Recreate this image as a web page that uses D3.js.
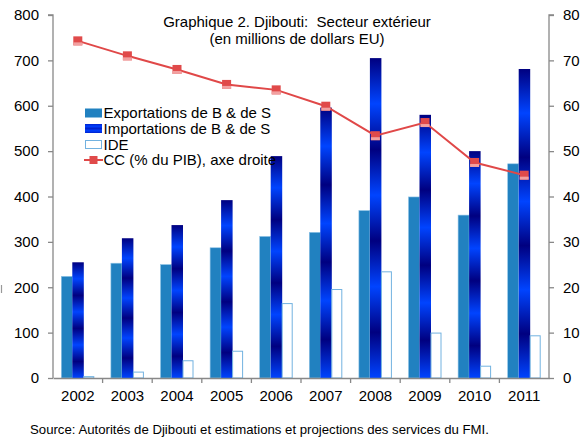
<!DOCTYPE html>
<html><head><meta charset="utf-8">
<script src="https://cdn.jsdelivr.net/npm/d3@7"></script>
<style>
body{margin:0;background:#fff;}
svg{display:block;font-family:"Liberation Sans",Arial,sans-serif;}
</style></head>
<body>
<script>
const years = ["2002","2003","2004","2005","2006","2007","2008","2009","2010","2011"];
const exportations = [224, 253, 250, 287, 312, 321, 369, 399, 359, 472];
const importations = [255, 308, 337, 392, 489, 596, 705, 580, 500, 681];
const ide = [3, 13, 38, 59, 164, 195, 234, 99, 26, 93];
const cc = [74.3, 71.0, 68.0, 64.7, 63.5, 59.9, 53.4, 56.3, 47.5, 44.7];
const leftTicks = [0,100,200,300,400,500,600,700,800];
const rightTicks = [0,10,20,30,40,50,60,70,80];
const legendLabels = ["Exportations de B & de S","Importations de B & de S","IDE","CC (% du PIB), axe droite"];

const W=584,H=439;
const m={l:53,r:35,t:15,b:61};
const svg=d3.select("body").append("svg").attr("width",W).attr("height",H);
const x=d3.scaleBand().domain(years).range([m.l,W-m.r]);
const yL=d3.scaleLinear().domain([0,800]).range([H-m.b,m.t]);
const yR=d3.scaleLinear().domain([0,80]).range([H-m.b,m.t]);
const bw=11;

// gradient for imports (repeating dark/bright bands)
const defs=svg.append("defs");
const g=defs.append("linearGradient").attr("id","impGrad").attr("x1",0).attr("x2",0).attr("y1",0).attr("y2",1);
for(let i=0;i<=7;i++){
  g.append("stop").attr("offset",(i/7)).attr("stop-color", i%2===0?"#000080":"#0044ff");
}
const gl=defs.append("linearGradient").attr("id","legGrad").attr("x1",0).attr("x2",0).attr("y1",0).attr("y2",1);
for(let i=0;i<=4;i++){
  gl.append("stop").attr("offset",(i/4)).attr("stop-color", i%2===0?"#0022cc":"#0040ff");
}

// bars
const grp=svg.append("g");
years.forEach((yr,i)=>{
  const c=x(yr)+x.bandwidth()/2;
  grp.append("rect").attr("x",c-bw*1.5).attr("y",yL(exportations[i])).attr("width",bw).attr("height",yL(0)-yL(exportations[i]))
    .attr("fill","#2181c0").attr("stroke","#8ec3e6").attr("stroke-width",0.6);
  grp.append("rect").attr("x",c-bw*0.5).attr("y",yL(importations[i])).attr("width",bw+0.5).attr("height",yL(0)-yL(importations[i]))
    .attr("fill","url(#impGrad)");
  grp.append("rect").attr("x",c+bw*0.5+0.5).attr("y",yL(ide[i])).attr("width",bw-1).attr("height",yL(0)-yL(ide[i]))
    .attr("fill","#fff").attr("stroke","#72b2e0").attr("stroke-width",1);
});

// axes
const axisColor="#888";
const left=svg.append("g").attr("transform",`translate(${m.l},0)`)
  .call(d3.axisLeft(yL).tickValues(leftTicks).tickSize(5).tickPadding(9));
const right=svg.append("g").attr("transform",`translate(${W-m.r},0)`)
  .call(d3.axisRight(yR).tickValues(rightTicks).tickSize(5).tickPadding(9));
const bottom=svg.append("g").attr("transform",`translate(0,${H-m.b})`)
  .call(d3.axisBottom(x).tickSize(0).tickPadding(12));
[left,right,bottom].forEach(a=>{
  a.select(".domain").attr("stroke",axisColor).attr("stroke-width",1.3);
  a.selectAll(".tick line").attr("stroke",axisColor).attr("stroke-width",1.3);
  a.selectAll("text").attr("font-size",15).attr("fill","#000").attr("font-family","'Liberation Sans',Arial,sans-serif");
});
left.select(".domain").attr("d",`M-5,${m.t}H0V${H-m.b}`);
right.select(".domain").attr("d",`M5,${m.t}H0V${H-m.b}`);
// category separator ticks on x axis
bottom.selectAll(".sep").data(years.slice(1)).enter().append("line").attr("class","sep")
  .attr("x1",d=>x(d)).attr("x2",d=>x(d)).attr("y1",0).attr("y2",5).attr("stroke",axisColor).attr("stroke-width",1.3);

// CC line
const line=d3.line().x((d,i)=>x(years[i])+x.bandwidth()/2).y(d=>yR(d));
svg.append("path").datum(cc).attr("d",line).attr("fill","none").attr("stroke","#e04848").attr("stroke-width",2);
const mk=svg.append("g").selectAll("g").data(cc).enter().append("g")
  .attr("transform",(d,i)=>`translate(${x(years[i])+x.bandwidth()/2},${yR(d)})`);
mk.append("rect").attr("x",-4.5).attr("y",-4.5).attr("width",9).attr("height",9).attr("fill","#e04a4a");
mk.append("rect").attr("x",-4.5).attr("y",1.5).attr("width",9).attr("height",3).attr("fill","#f2a0a0");

// title
const title=svg.append("text").attr("x",297).attr("text-anchor","middle").attr("font-size",15).attr("fill","#000");
title.append("tspan").attr("x",297).attr("y",27).text("Graphique 2. Djibouti:  Secteur extérieur").attr("xml:space","preserve");
title.append("tspan").attr("x",297).attr("y",44).text("(en millions de dollars EU)");

// legend
const lg=svg.append("g");
const ly=[113,128.5,144.5,160];
lg.append("rect").attr("x",85).attr("y",ly[0]-4.5).attr("width",17).attr("height",9).attr("fill","#2181c0");
lg.append("rect").attr("x",85).attr("y",ly[1]-4.5).attr("width",17).attr("height",9).attr("fill","url(#legGrad)");
lg.append("rect").attr("x",85.5).attr("y",ly[2]-4).attr("width",16).attr("height",8).attr("fill","#fff").attr("stroke","#72b2e0");
lg.append("line").attr("x1",84).attr("x2",103).attr("y1",ly[3]).attr("y2",ly[3]).attr("stroke","#e04848").attr("stroke-width",2);
lg.append("rect").attr("x",89.5).attr("y",ly[3]-4).attr("width",8).attr("height",8).attr("fill","#e04a4a");
lg.selectAll("text").data(legendLabels).enter().append("text")
  .attr("x",103.5).attr("y",(d,i)=>ly[i]+5).attr("font-size",15).attr("fill","#000").text(d=>d);

// clipped fragment at left edge
svg.append("line").attr("x1",1.5).attr("x2",1.5).attr("y1",285).attr("y2",293).attr("stroke","#999").attr("stroke-width",1.2);

// source
svg.append("text").attr("x",30).attr("y",434).attr("font-size",13.2).attr("fill","#000")
  .text("Source: Autorités de Djibouti et estimations et projections des services du FMI.");
</script>
</body></html>
